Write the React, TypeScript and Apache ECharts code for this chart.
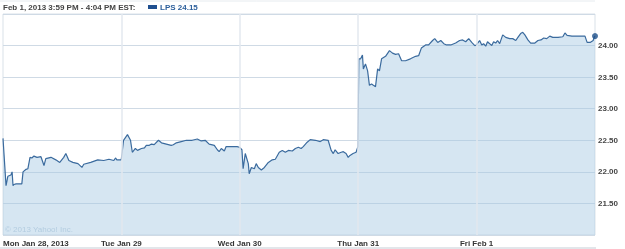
import React, { useEffect, useRef } from "react";
import * as echarts from "echarts";

const dayLabels = ["Mon Jan 28, 2013", "Tue Jan 29", "Wed Jan 30", "Thu Jan 31", "Fri Feb 1"];
const yTicks = [21.5, 22.0, 22.5, 23.0, 23.5, 24.0];

// minutes since 9:30 open, per trading day
const monMin = [0, 10, 16, 26, 30, 33, 36, 43, 62, 66, 76, 82, 89, 95, 102, 112, 125, 135, 141, 158, 174, 187, 200, 207, 217, 230, 247, 260, 266, 289, 312, 332, 349, 365, 371, 375, 389];
const monVal = [22.53, 21.78, 21.93, 21.95, 22.0, 21.78, 21.8, 21.81, 21.81, 22.0, 22.04, 22.05, 22.23, 22.22, 22.25, 22.23, 22.24, 22.1, 22.21, 22.23, 22.19, 22.15, 22.23, 22.29, 22.18, 22.15, 22.13, 22.07, 22.12, 22.15, 22.19, 22.18, 22.2, 22.18, 22.22, 22.19, 22.19];

const tueMin = [0, 7, 20, 30, 36, 46, 53, 66, 76, 82, 92, 99, 108, 122, 132, 148, 164, 171, 181, 197, 214, 233, 250, 263, 276, 289, 306, 316, 322, 329, 339, 345, 368, 381, 389];
const tueVal = [22.21, 22.5, 22.59, 22.5, 22.31, 22.37, 22.34, 22.37, 22.38, 22.42, 22.42, 22.44, 22.43, 22.5, 22.46, 22.44, 22.42, 22.43, 22.46, 22.48, 22.5, 22.5, 22.52, 22.49, 22.5, 22.44, 22.42, 22.35, 22.32, 22.37, 22.33, 22.4, 22.4, 22.4, 22.39];

const wedMin = [0, 7, 11, 18, 28, 31, 38, 48, 54, 61, 71, 81, 94, 107, 117, 130, 140, 150, 160, 173, 183, 193, 202, 209, 222, 232, 249, 265, 275, 291, 301, 308, 314, 324, 334, 341, 350, 357, 363, 373, 383, 389];
const wedVal = [22.39, 22.35, 22.05, 22.29, 22.13, 21.97, 22.07, 22.05, 22.13, 22.07, 22.03, 22.07, 22.15, 22.19, 22.2, 22.31, 22.34, 22.31, 22.34, 22.33, 22.37, 22.39, 22.37, 22.4, 22.47, 22.51, 22.5, 22.48, 22.51, 22.5, 22.34, 22.29, 22.35, 22.29, 22.31, 22.32, 22.29, 22.23, 22.26, 22.29, 22.31, 22.4];

const thuMin = [2, 8, 14, 17, 24, 31, 37, 44, 50, 57, 64, 70, 77, 90, 103, 113, 123, 133, 143, 156, 172, 189, 199, 208, 222, 232, 245, 252, 262, 272, 282, 291, 305, 321, 334, 344, 354, 364, 374, 384, 389];
const thuVal = [23.79, 23.79, 23.85, 23.63, 23.71, 23.6, 23.37, 23.39, 23.37, 23.35, 23.63, 23.6, 23.79, 23.83, 23.92, 23.88, 23.86, 23.87, 23.76, 23.76, 23.79, 23.83, 23.84, 23.96, 24.01, 24.01, 24.08, 24.11, 24.05, 24.08, 24.03, 24.01, 24.01, 24.04, 24.08, 24.09, 24.06, 24.11, 24.05, 24.0, 24.01];

const friMin = [0, 10, 17, 23, 30, 36, 43, 50, 56, 63, 69, 76, 86, 96, 109, 119, 129, 136, 145, 152, 159, 169, 178, 192, 202, 212, 221, 231, 241, 251, 268, 284, 291, 298, 314, 341, 357, 364, 374, 384, 387, 390];
const friVal = [24.01, 24.08, 24.01, 24.03, 23.99, 24.06, 24.03, 24.0, 24.06, 24.04, 24.08, 24.03, 24.17, 24.13, 24.11, 24.11, 24.08, 24.13, 24.19, 24.21, 24.17, 24.09, 24.04, 24.04, 24.08, 24.09, 24.12, 24.11, 24.15, 24.13, 24.13, 24.14, 24.2, 24.16, 24.15, 24.15, 24.15, 24.05, 24.05, 24.08, 24.13, 24.15];

const SESSION = 390;
const days = [
  [monMin, monVal],
  [tueMin, tueVal],
  [wedMin, wedVal],
  [thuMin, thuVal],
  [friMin, friVal],
];

const FONT = "'Liberation Sans', Arial, sans-serif";

export default function App() {
  const ref = useRef<HTMLDivElement>(null);
  useEffect(() => {
    if (!ref.current) return;
    const chart = echarts.init(ref.current, null, { renderer: "svg" });
    const data: number[][] = [];
    days.forEach(([mins, vals], d) => {
      mins.forEach((m, i) => data.push([d * SESSION + m, vals[i]]));
    });
    const last = data[data.length - 1];
    chart.setOption({
      animation: false,
      grid: {
        left: 2,
        right: 30,
        top: 14,
        bottom: 14,
        show: true,
        borderColor: "#d9e1e8",
        borderWidth: 1,
        backgroundColor: "transparent",
      },
      xAxis: {
        type: "value",
        min: 0,
        max: SESSION * 5,
        interval: SESSION,
        axisLine: { show: false },
        axisTick: { show: false },
        splitLine: { show: false },
        axisLabel: {
          margin: 4,
          fontFamily: FONT,
          fontSize: 8,
          fontWeight: "bold",
          color: "#353535",
          showMaxLabel: false,
          alignMinLabel: "left",
          formatter: (v: number) => dayLabels[Math.round(v / SESSION)] ?? "",
        },
      },
      yAxis: {
        type: "value",
        position: "right",
        min: 21,
        max: 24.5,
        interval: 0.5,
        axisLine: { show: false },
        axisTick: { show: false },
        axisLabel: {
          margin: 3,
          fontFamily: FONT,
          fontSize: 8,
          fontWeight: "bold",
          color: "#454545",
          showMinLabel: false,
          showMaxLabel: false,
          formatter: (v: number) => (yTicks.some((t) => Math.abs(t - v) < 1e-6) ? v.toFixed(2) : ""),
        },
        splitLine: { show: true, lineStyle: { color: "#cfdae5", width: 1 } },
      },
      series: [
        {
          type: "line",
          data,
          showSymbol: false,
          symbol: "none",
          lineStyle: { color: "#3b6b9e", width: 1.2 },
          areaStyle: { color: "rgba(165,200,226,0.45)", opacity: 1, origin: "start" },
          markLine: {
            silent: true,
            symbol: "none",
            label: { show: false },
            lineStyle: { color: "#e3e9ef", width: 1.5, type: "solid" },
            data: [1, 2, 3, 4].map((d) => ({ xAxis: d * SESSION })),
          },
          z: 2,
        },
        {
          type: "scatter",
          data: [last],
          symbolSize: 6,
          itemStyle: { color: "#1d4f8a" },
          z: 5,
        },
      ],
      graphic: [
        {
          type: "line",
          shape: { x1: 0, y1: 1, x2: 595, y2: 1 },
          style: { stroke: "#e6ebef", lineWidth: 1 },
        },
        {
          type: "line",
          shape: { x1: 0, y1: 248, x2: 596, y2: 248 },
          style: { stroke: "#d9dee3", lineWidth: 1.5 },
        },
        {
          type: "text",
          x: 3,
          y: 3,
          style: {
            text: "Feb 1, 2013 3:59 PM - 4:04 PM EST:",
            fontFamily: FONT,
            fontSize: 8,
            fontWeight: "bold",
            fill: "#444",
          },
        },
        {
          type: "rect",
          shape: { x: 148, y: 5, width: 9, height: 4 },
          style: { fill: "#1f4f8f" },
        },
        {
          type: "text",
          x: 160,
          y: 3,
          style: {
            text: "LPS 24.15",
            fontFamily: FONT,
            fontSize: 8,
            fontWeight: "bold",
            fill: "#2b5e9b",
          },
        },
        {
          type: "text",
          x: 5,
          y: 225,
          style: {
            text: "© 2013 Yahoo! Inc.",
            fontFamily: FONT,
            fontSize: 8,
            fill: "#bfd0de",
          },
        },
      ],
    });
    return () => chart.dispose();
  }, []);
  return <div ref={ref} style={{ width: 625, height: 249, position: "fixed", left: 0, top: 0 }} />;
}
